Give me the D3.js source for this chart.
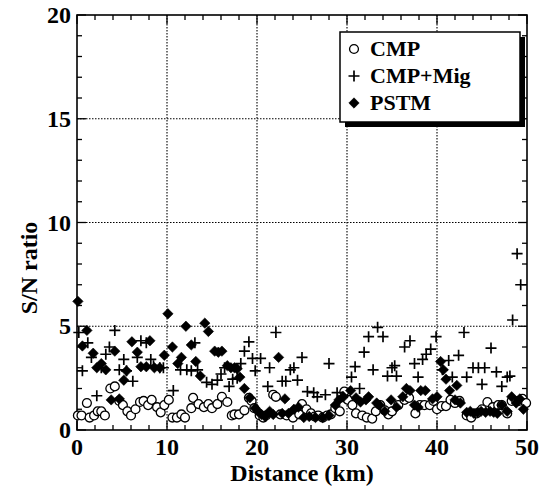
<!DOCTYPE html>
<html>
<head>
<meta charset="utf-8">
<script src="https://cdn.jsdelivr.net/npm/d3@7"></script>
<style>
  body { margin: 0; background: #fff; }
  .grid { stroke: #000; stroke-width: 1.1; stroke-dasharray: 1.5 1.5; }
</style>
</head>
<body>
<script>
// S/N ratio vs distance
const xTicks = [0, 10, 20, 30, 40, 50];
const yTicks = [0, 5, 10, 15, 20];

const cmp = [
  [0.1, 0.7], [0.5, 0.7], [1.1, 1.3], [1.4, 0.6], [1.9, 0.7], [2.3, 0.9], [2.7, 0.9], [3.1, 0.7],
  [3.7, 2.0], [4.2, 2.1], [4.7, 1.4], [5.1, 1.2], [5.6, 0.9], [6.0, 0.7], [6.5, 1.0], [7.0, 1.35],
  [7.4, 1.4], [7.9, 1.2], [8.3, 1.45], [8.9, 1.1], [9.3, 0.85], [9.7, 1.2], [10.2, 1.45], [10.6, 0.6],
  [11.1, 0.6], [11.6, 0.75], [12.0, 0.6], [12.7, 1.05], [12.9, 1.55], [13.5, 1.25], [14.1, 1.1],
  [14.6, 1.25], [15.0, 1.05], [15.6, 1.25], [16.1, 1.6], [16.7, 1.35], [17.2, 0.7], [17.5, 0.75],
  [18.0, 0.75], [18.6, 0.95], [19.1, 1.55], [19.4, 1.4], [19.7, 1.05], [20.3, 0.7], [20.7, 0.6],
  [21.0, 0.7], [21.8, 1.7], [22.1, 1.6], [22.6, 0.75], [23.3, 0.7], [24.0, 0.6], [24.7, 0.75],
  [25.0, 1.25], [25.5, 1.0], [26.0, 0.8], [26.4, 0.65], [26.8, 0.7], [27.3, 0.6], [27.8, 0.7],
  [28.2, 0.75], [28.7, 1.05], [29.2, 0.9], [29.7, 1.85], [30.1, 1.45], [30.6, 1.2], [31.0, 0.8],
  [31.7, 0.7], [32.2, 0.6], [32.8, 0.55], [33.2, 0.9], [33.7, 1.2], [34.2, 0.95], [34.6, 0.75],
  [35.0, 0.9], [35.7, 1.2], [36.4, 1.45], [36.9, 1.55], [37.6, 0.8], [38.1, 1.2], [38.6, 1.2],
  [39.2, 1.2], [39.6, 1.4], [40.0, 1.0], [40.5, 1.15], [41.0, 1.15], [41.5, 1.45], [42.0, 1.3],
  [42.5, 1.4], [43.3, 0.7], [43.8, 0.6], [44.4, 0.8], [45.0, 1.0], [45.6, 1.35], [46.2, 1.1],
  [46.8, 1.2], [47.2, 1.2], [47.8, 0.8], [48.3, 1.4], [49.1, 1.4], [49.5, 1.5], [49.9, 1.3]
];

const cmpMig = [
  [0.2, 4.7], [0.6, 2.85], [1.2, 4.2], [1.6, 3.5], [2.2, 1.65], [2.7, 3.0], [3.2, 3.65], [3.6, 4.0],
  [4.2, 4.8], [4.7, 2.9], [5.2, 3.4], [5.5, 2.85], [6.2, 2.35], [6.7, 3.5], [7.1, 4.3], [7.7, 4.2],
  [8.2, 3.4], [8.5, 3.1], [9.2, 3.0], [9.6, 3.0], [10.7, 1.9], [11.5, 2.9], [12.2, 2.9], [12.7, 2.85],
  [13.1, 4.2], [13.4, 2.9], [14.4, 2.3], [15.0, 2.2], [15.6, 2.4], [16.0, 2.7], [16.4, 3.0],
  [16.9, 2.1], [17.3, 2.45], [17.8, 2.5], [18.2, 3.2], [18.6, 3.8], [19.1, 4.25], [19.5, 3.45],
  [19.8, 2.85], [20.4, 3.45], [21.2, 2.1], [21.4, 3.0], [22.1, 4.7], [22.8, 2.35], [23.2, 2.35],
  [23.7, 2.9], [24.1, 3.0], [24.5, 2.4], [25.0, 3.5], [25.6, 1.85], [26.3, 1.8], [26.7, 1.6],
  [27.6, 1.7], [28.0, 3.2], [28.9, 1.8], [29.5, 1.6], [30.5, 2.55], [30.9, 3.05], [31.4, 2.0],
  [31.9, 3.75], [32.4, 4.5], [32.9, 2.9], [33.4, 4.95], [34.0, 4.5], [34.5, 2.6], [35.0, 3.0],
  [35.3, 3.1], [35.5, 2.6], [36.4, 4.0], [37.0, 4.3], [37.5, 3.2], [37.9, 2.55], [38.4, 3.4],
  [38.8, 3.65], [39.3, 3.9], [39.9, 4.5], [40.6, 2.9], [41.3, 3.35], [41.7, 2.55], [42.4, 3.6],
  [43.0, 4.7], [43.3, 2.55], [44.0, 3.0], [44.6, 3.0], [45.0, 2.2], [45.3, 3.0], [46.0, 3.95],
  [46.6, 2.8], [47.2, 2.1], [47.8, 2.55], [48.1, 2.6], [48.4, 5.3], [48.9, 8.5], [49.3, 7.0]
];

const pstm = [
  [0.1, 6.2], [0.6, 4.05], [1.1, 4.8], [1.8, 3.7], [2.2, 3.0], [2.7, 3.2], [3.2, 2.9], [3.8, 1.45],
  [4.2, 3.8], [4.7, 1.5], [5.2, 2.4], [5.5, 2.85], [6.1, 4.25], [6.7, 3.75], [7.1, 3.05], [7.7, 3.05],
  [8.1, 4.3], [8.6, 3.0], [9.2, 3.0], [9.7, 3.6], [10.1, 5.6], [10.6, 4.0], [11.2, 3.2], [11.6, 3.5],
  [12.1, 5.0], [12.7, 4.1], [13.2, 3.3], [13.7, 2.6], [14.2, 5.15], [14.6, 4.75], [15.3, 3.8],
  [15.7, 3.75], [16.1, 3.8], [16.7, 3.1], [17.1, 3.0], [17.5, 3.0], [17.8, 2.95], [18.1, 2.55],
  [18.6, 2.0], [19.2, 1.55], [19.8, 1.05], [20.1, 0.9], [20.5, 0.75], [20.9, 0.65], [21.4, 0.9],
  [21.8, 0.75], [22.4, 3.5], [22.8, 0.8], [23.1, 1.5], [23.5, 0.8], [24.1, 1.0], [24.6, 1.1],
  [25.2, 0.6], [25.8, 0.65], [26.5, 0.6], [27.3, 0.6], [28.0, 0.7], [28.7, 1.2], [29.1, 1.45],
  [29.6, 1.6], [30.4, 1.9], [31.0, 1.55], [31.5, 1.35], [32.1, 1.45], [32.4, 1.6], [33.3, 1.3],
  [33.6, 1.2], [34.2, 0.9], [34.9, 1.45], [35.5, 1.1], [36.2, 1.6], [36.6, 2.0], [37.0, 1.9],
  [37.5, 1.2], [37.9, 1.1], [38.2, 1.9], [38.7, 1.9], [39.5, 1.5], [40.0, 1.6], [40.4, 3.3],
  [40.7, 2.9], [41.0, 2.45], [41.4, 1.9], [42.0, 1.45], [42.2, 2.15], [42.6, 1.3], [43.3, 0.85],
  [43.7, 0.9], [44.1, 0.8], [44.5, 0.85], [44.9, 0.9], [45.4, 0.85], [45.9, 0.9], [46.3, 0.85],
  [46.7, 0.8], [47.2, 1.2], [47.8, 0.9], [48.3, 1.6], [48.8, 1.3], [49.2, 1.5], [49.6, 1.0]
];

const seriesNames = ["CMP", "CMP+Mig", "PSTM"];

const FONT = "Liberation Serif, DejaVu Serif, serif";

const width = 543;
const height = 494;
const margin = { top: 15, right: 16, bottom: 64, left: 77 };
const plotW = width - margin.left - margin.right;
const plotH = height - margin.top - margin.bottom;

const svg = d3.select("body")
    .append("svg")
    .attr("width", width)
    .attr("height", height);

const g = svg.append("g")
    .attr("transform", `translate(${margin.left}, ${margin.top})`);

const x = d3.scaleLinear().domain([0, 50]).range([0, plotW]);
const y = d3.scaleLinear().domain([0, 20]).range([plotH, 0]);

function label(sel, size) {
    return sel.attr("font-family", FONT)
        .attr("font-weight", "bold")
        .attr("font-size", size)
        .attr("fill", "#000");
}

// dotted grid at the major ticks
g.selectAll(".gx")
    .data(xTicks.slice(1, -1))
    .enter().append("line")
    .attr("class", "grid")
    .attr("x1", (d) => x(d)).attr("x2", (d) => x(d))
    .attr("y1", 0).attr("y2", plotH);

g.selectAll(".gy")
    .data(yTicks.slice(1, -1))
    .enter().append("line")
    .attr("class", "grid")
    .attr("y1", (d) => y(d)).attr("y2", (d) => y(d))
    .attr("x1", 0).attr("x2", plotW);

// inward ticks on all four sides
const xMinor = d3.range(0, 51, 2);
const yMinor = d3.range(0, 21, 1);

function tickLen(v, step) { return v % step === 0 ? 9 : 5; }

const ticks = g.append("g").attr("stroke", "#000").attr("stroke-width", 1.3);
xMinor.forEach((v) => {
    const len = tickLen(v, 10);
    ticks.append("line").attr("x1", x(v)).attr("x2", x(v)).attr("y1", plotH).attr("y2", plotH - len);
    ticks.append("line").attr("x1", x(v)).attr("x2", x(v)).attr("y1", 0).attr("y2", len);
});
yMinor.forEach((v) => {
    const len = tickLen(v, 5);
    ticks.append("line").attr("y1", y(v)).attr("y2", y(v)).attr("x1", 0).attr("x2", len);
    ticks.append("line").attr("y1", y(v)).attr("y2", y(v)).attr("x1", plotW).attr("x2", plotW - len);
});

g.append("rect")
    .attr("width", plotW).attr("height", plotH)
    .attr("fill", "none").attr("stroke", "#000").attr("stroke-width", 1.6);

// tick labels
g.selectAll(".xl")
    .data(xTicks)
    .enter().append("text")
    .attr("x", (d) => x(d))
    .attr("y", plotH + 25)
    .attr("text-anchor", "middle")
    .call(label, 24)
    .text((d) => d);

g.selectAll(".yl")
    .data(yTicks)
    .enter().append("text")
    .attr("x", -6)
    .attr("y", (d) => y(d) + 8)
    .attr("text-anchor", "end")
    .call(label, 24)
    .text((d) => d);

svg.append("text")
    .attr("x", margin.left + plotW / 2)
    .attr("y", 481)
    .attr("text-anchor", "middle")
    .call(label, 24)
    .text("Distance (km)");

svg.append("text")
    .attr("transform", "translate(37, 268) rotate(-90)")
    .attr("text-anchor", "middle")
    .call(label, 24)
    .text("S/N ratio");

// markers
const symCircle = d3.symbol().type(d3.symbolCircle).size(62);
const symCross = (s) => `M${-s},0H${s}M0,${-s}V${s}`;
const symDiamond = (s) => `M0,${-s}L${s},0L0,${s}L${-s},0Z`;

function drawCircle(sel) {
    sel.attr("d", symCircle()).attr("fill", "#fff").attr("stroke", "#000").attr("stroke-width", 1.3);
}
function drawCross(sel) {
    sel.attr("d", symCross(5.5)).attr("fill", "none").attr("stroke", "#000").attr("stroke-width", 1.7);
}
function drawDiamond(sel) {
    sel.attr("d", symDiamond(5.2)).attr("fill", "#000").attr("stroke", "#000").attr("stroke-width", 0.6);
}

g.selectAll(".cmp").data(cmp).enter().append("path")
    .attr("transform", (d) => `translate(${x(d[0])}, ${y(d[1])})`)
    .call(drawCircle);

g.selectAll(".pstm").data(pstm).enter().append("path")
    .attr("transform", (d) => `translate(${x(d[0])}, ${y(d[1])})`)
    .call(drawDiamond);

g.selectAll(".mig").data(cmpMig).enter().append("path")
    .attr("transform", (d) => `translate(${x(d[0])}, ${y(d[1])})`)
    .call(drawCross);

// legend with drop shadow
const lg = svg.append("g").attr("transform", "translate(340, 32)");
lg.append("rect").attr("x", 5).attr("y", 5).attr("width", 180).attr("height", 90).attr("fill", "#000");
lg.append("rect").attr("width", 180).attr("height", 90).attr("fill", "#fff").attr("stroke", "#000").attr("stroke-width", 1.5);

const drawers = [drawCircle, drawCross, drawDiamond];
seriesNames.forEach((name, i) => {
    const cy = 17 + i * 27;
    lg.append("path").attr("transform", `translate(14, ${cy})`).call(drawers[i]);
    lg.append("text")
        .attr("x", 30)
        .attr("y", cy + 7)
        .call(label, 22)
        .text(name);
});
</script>
</body>
</html>
